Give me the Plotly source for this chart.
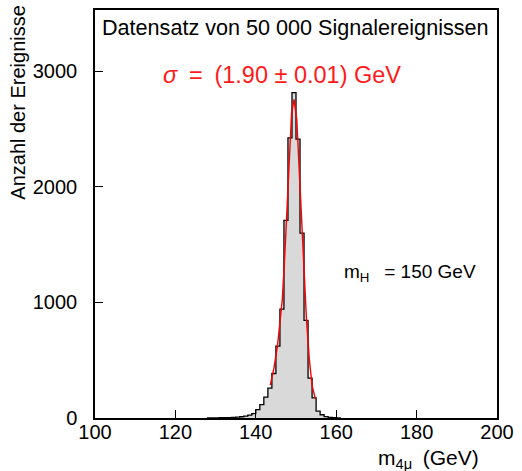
import plotly.graph_objects as go

# histogram: lower bin edges (GeV, 1 GeV bins) and counts
bin_low = [128, 129, 130, 131, 132, 133, 134, 135, 136, 137, 138, 139,
           140, 141, 142, 143, 144, 145, 146, 147, 148, 149, 150, 151, 152, 153, 154, 155,
           156, 157, 158, 159, 160]
counts = [1, 1, 1, 2, 3, 4, 5, 8, 11, 16, 25, 38,
          72, 115, 181, 258, 385, 622, 942, 1709, 2423, 2815, 2413, 1600, 845, 345, 174, 60,
          28, 12, 5, 2, 1]

# fit curve (red)
fit_x = [143.6, 144.5, 145.4, 146.0, 146.6, 147.2, 147.6, 148.3, 148.9, 149.5,
         150.2, 150.8, 151.4, 152.0, 152.6, 153.3, 154.0, 154.8]
fit_y = [285, 430, 626, 800, 1028, 1400, 1717, 2291, 2636, 2756,
         2579, 2148, 1717, 1258, 856, 512, 282, 167]

x_ticks = [100, 120, 140, 160, 180, 200]
y_ticks = [0, 1000, 2000, 3000]

step_x = [bin_low[0]] + bin_low + [bin_low[-1] + 1]
step_y = [0] + counts + [0]

fig = go.Figure()
fig.add_trace(go.Scatter(x=step_x, y=step_y, mode="lines", line_shape="hv",
                         fill="tozeroy", fillcolor="#d9d9d9",
                         line=dict(color="black", width=1.3), hoverinfo="skip"))
fig.add_trace(go.Scatter(x=fit_x, y=fit_y, mode="lines",
                         line=dict(color="#ff0000", width=1.4), hoverinfo="skip"))

W, H = 522, 471
L, R, T, B = 95, 19, 8, 53

fig.update_layout(
    width=W, height=H,
    margin=dict(l=L, r=R, t=T, b=B, pad=0),
    paper_bgcolor="white", plot_bgcolor="white",
    showlegend=False,
    font=dict(family="Liberation Sans, Arial, sans-serif", color="black", size=19),
    xaxis=dict(range=[100, 200], tickvals=x_ticks, ticktext=[str(v) for v in x_ticks],
               ticks="inside", ticklen=8, tickwidth=1.2, tickcolor="black",
               showline=True, linecolor="black", linewidth=1.5, mirror=True,
               showgrid=False, zeroline=False, tickfont=dict(size=20),
               ticklabelstandoff=-5),
    yaxis=dict(range=[0, 3530], tickvals=y_ticks, ticktext=[str(v) for v in y_ticks],
               ticks="inside", ticklen=8, tickwidth=1.2, tickcolor="black",
               showline=True, linecolor="black", linewidth=1.5, mirror=True,
               showgrid=False, zeroline=False, tickfont=dict(size=20),
               ticklabelstandoff=12),
)

def px(xp):
    return (xp - L) / (W - L - R)

def py(yp):
    return (H - B - yp) / (H - T - B)

ann = [
    dict(text="Datensatz von 50 000 Signalereignissen", x=px(298), y=py(26),
         xanchor="center", yanchor="middle", font=dict(size=21.6)),
    dict(text="<i>σ</i>\u2002=\u2002(1.90 ± 0.01) GeV", x=px(284.5), y=py(73),
         xanchor="center", yanchor="middle", font=dict(size=23.5, color="#ff1a1a")),
    dict(text="m<sub>H</sub>\u2002 = 150 GeV", x=px(346), y=py(272),
         xanchor="left", yanchor="middle", font=dict(size=19)),
    dict(text="m<sub>4μ</sub>\u2002(GeV)", x=px(487), y=py(459),
         xanchor="right", yanchor="middle", font=dict(size=21)),
    dict(text="Anzahl der Ereignisse", x=px(16), y=py(101), textangle=-90,
         xanchor="center", yanchor="middle", font=dict(size=20)),
]
for a in ann:
    a.update(xref="paper", yref="paper", showarrow=False)
fig.update_layout(annotations=ann)

fig.write_html("out.html")
